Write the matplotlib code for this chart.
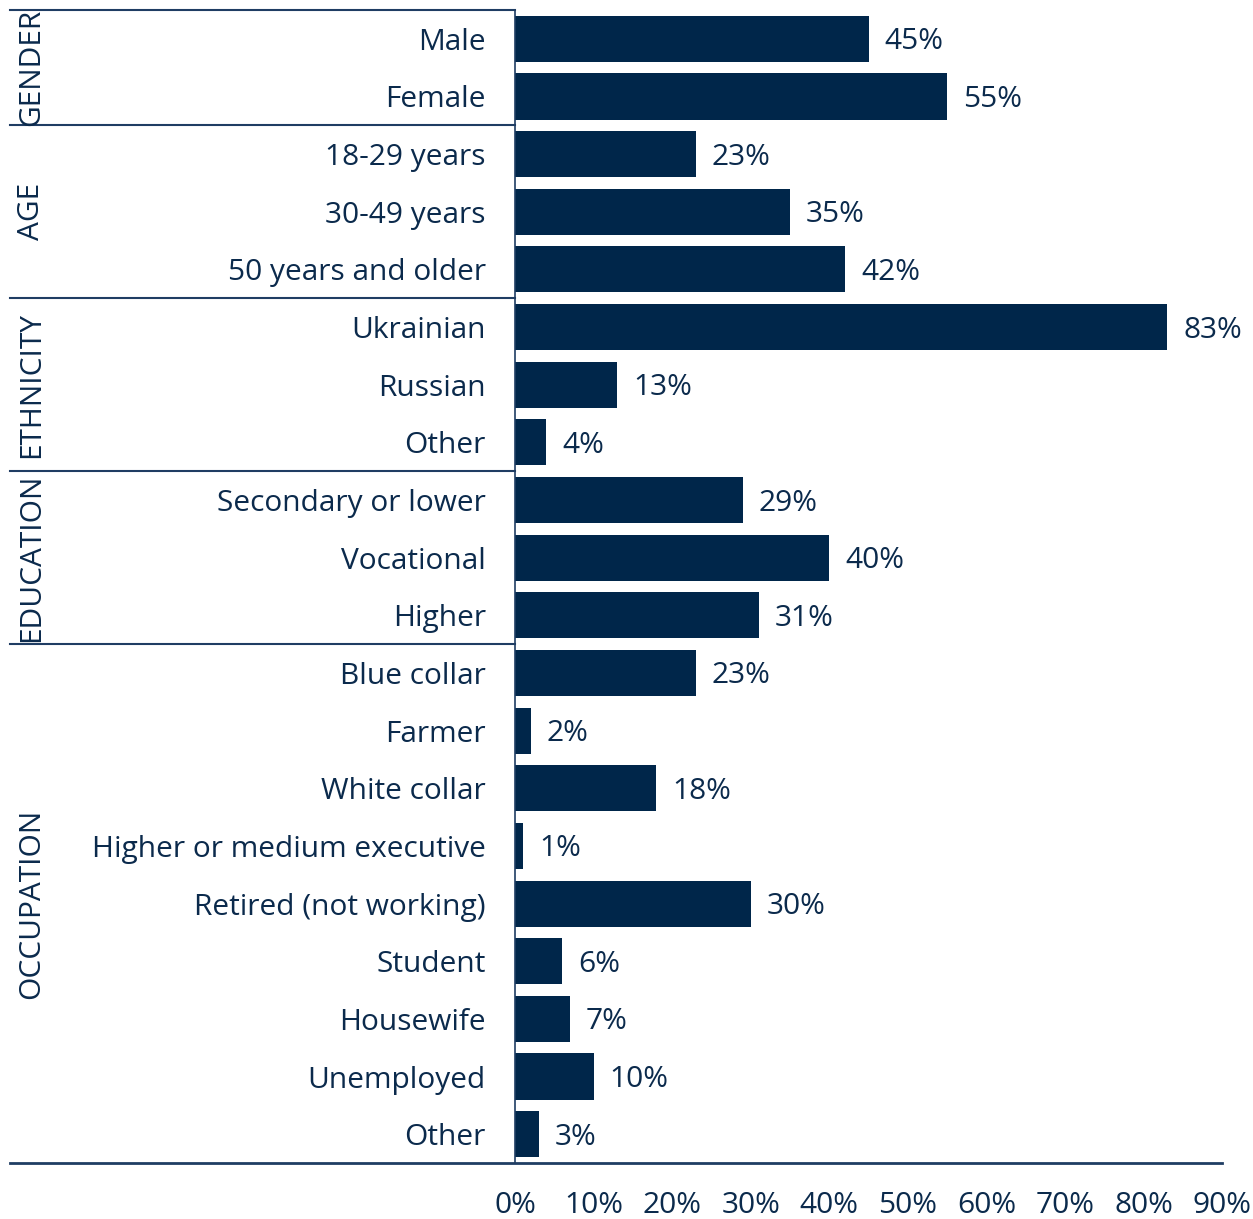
import matplotlib
matplotlib.use("Agg")
import matplotlib.pyplot as plt
from matplotlib.lines import Line2D

# data
groups = ["GENDER", "AGE", "ETHNICITY", "EDUCATION", "OCCUPATION"]
group_sizes = [2, 3, 3, 3, 9]
categories = [
    "Male", "Female",
    "18-29 years", "30-49 years", "50 years and older",
    "Ukrainian", "Russian", "Other",
    "Secondary or lower", "Vocational", "Higher",
    "Blue collar", "Farmer", "White collar", "Higher or medium executive",
    "Retired (not working)", "Student", "Housewife", "Unemployed", "Other",
]
values = [45, 55, 23, 35, 42, 83, 13, 4, 29, 40, 31, 23, 2, 18, 1, 30, 6, 7, 10, 3]
x_ticks = [0, 10, 20, 30, 40, 50, 60, 70, 80, 90]

BAR = "#00264a"
TEXT = "#0b2a4c"
LINE = "#1f3d63"
FS = 21.5

plt.rcParams["font.family"] = ["Open Sans", "DejaVu Sans"]

W, H = 1253, 1219
fig = plt.figure(figsize=(W / 100, H / 100), dpi=100)
ax = fig.add_axes([515 / W, 1 - 1163 / H, (1222 - 515) / W, (1163 - 10) / H])

y = list(range(len(categories)))
ax.barh(y, values, height=0.8, color=BAR)
ax.set_ylim(len(categories) - 0.5, -0.5)
ax.set_xlim(0, 90)

for yi, v in zip(y, values):
    ax.annotate(f"{v}%", (v, yi), xytext=(16, -3), textcoords="offset pixels",
                va="center", ha="left", fontsize=FS, color=TEXT)

ax.set_yticks(y)
ax.set_yticklabels(categories, fontsize=FS, color=TEXT)
ax.tick_params(axis="y", length=0, pad=21)
ax.set_xticks(x_ticks)
ax.set_xticklabels([f"{t}%" for t in x_ticks], fontsize=FS, color=TEXT)
ax.tick_params(axis="x", length=0, pad=20)

for s in ["top", "right", "bottom"]:
    ax.spines[s].set_visible(False)
ax.spines["left"].set_color(LINE)
ax.spines["left"].set_linewidth(1.2)

# bottom axis line reaching under the labels
fig.add_artist(Line2D([10 / W, 1222 / W], [1 - 1163 / H] * 2, color=LINE, lw=2))

# group separators and labels
trans = ax.get_yaxis_transform()
x_left = (10 - 515) / (1222 - 515)
start = 0
ax.plot([x_left, 0], [-0.5, -0.5], transform=trans, color=LINE, lw=1.5, clip_on=False)
for name, n in zip(groups, group_sizes):
    end = start + n
    if end < len(categories):
        ax.plot([x_left, 0], [end - 0.5, end - 0.5], transform=trans,
                color=LINE, lw=1.5, clip_on=False)
    mid = (start + end - 1) / 2
    ax.text((32 - 515) / (1222 - 515), mid, name, transform=trans, rotation=90,
            ha="center", va="center", fontsize=FS, color=TEXT)
    start = end

fig.savefig("out.png", dpi=100)
